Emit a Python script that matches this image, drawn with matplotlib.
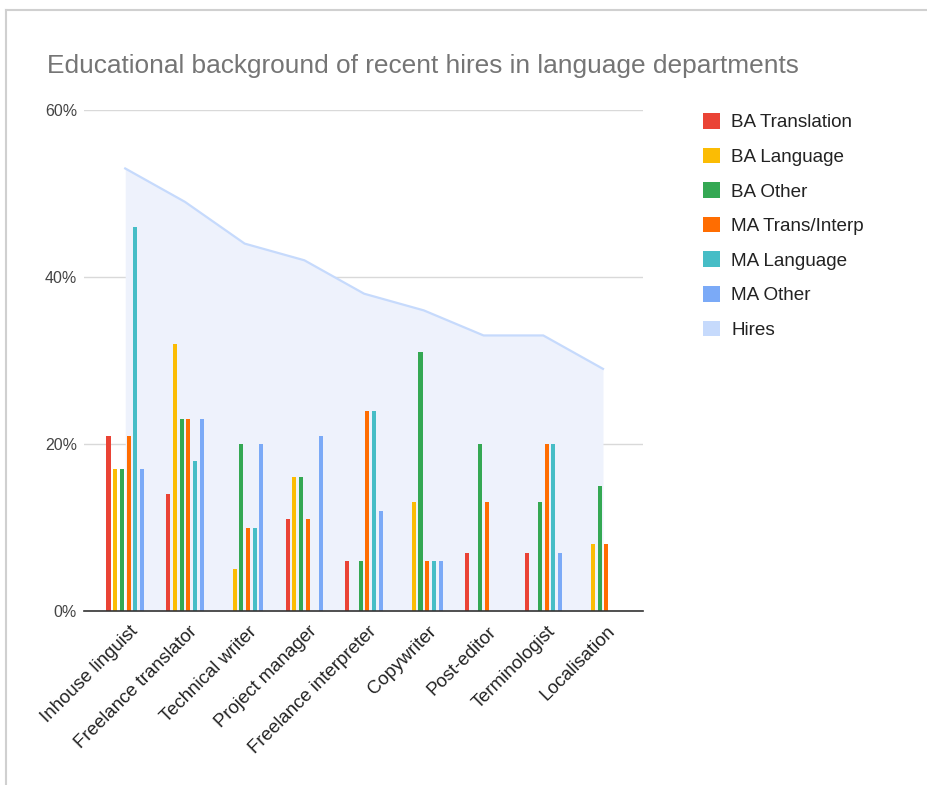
import matplotlib
matplotlib.use("Agg")
import matplotlib.pyplot as plt
import numpy as np
from matplotlib.patches import Patch
from matplotlib.lines import Line2D
from matplotlib.transforms import ScaledTranslation

plt.rcParams['font.family'] = ['Liberation Sans', 'DejaVu Sans']

categories = ["Inhouse linguist", "Freelance translator", "Technical writer",
              "Project manager", "Freelance interpreter", "Copywriter",
              "Post-editor", "Terminologist", "Localisation"]

ba_translation = [21, 14, 0, 11, 6, 0, 7, 7, 0]
ba_language    = [17, 32, 5, 16, 0, 13, 0, 0, 8]
ba_other       = [17, 23, 20, 16, 6, 31, 20, 13, 15]
ma_trans_interp = [21, 23, 10, 11, 24, 6, 13, 20, 8]
ma_language    = [46, 18, 10, 0, 24, 6, 0, 20, 0]
ma_other       = [17, 23, 20, 21, 12, 6, 0, 7, 0]
hires          = [53, 49, 44, 42, 38, 36, 33, 33, 29]

series_names = ["BA Translation", "BA Language", "BA Other",
                "MA Trans/Interp", "MA Language", "MA Other"]
series_values = [ba_translation, ba_language, ba_other,
                 ma_trans_interp, ma_language, ma_other]
series_colors = ["#ea4335", "#fbbc04", "#34a853", "#ff6d01", "#46bdc6", "#7baaf7"]
hires_line = "#c6dafc"
hires_fill = "#eef2fc"

fig = plt.figure(figsize=(9.28, 7.85), dpi=100)
ax = fig.add_axes([84 / 928, 1 - 611 / 785, (643 - 84) / 928, (611 - 110) / 785])

x = np.arange(len(categories))

# Hires shown as an area behind the bars
ax.fill_between(x, hires, 0, color=hires_fill, zorder=1, linewidth=0)
ax.plot(x, hires, color=hires_line, linewidth=1.6, zorder=2)

step = 0.112
width = 0.068
for k, (vals, col) in enumerate(zip(series_values, series_colors)):
    ax.bar(x + (k - 2.5) * step, vals, width=width, color=col, zorder=3)

ax.set_xlim(-0.69, 8.67)
ax.set_ylim(0, 60)
ax.set_yticks([0, 20, 40, 60])
ax.set_yticklabels(["0%", "20%", "40%", "60%"], fontsize=11.5, color="#444444")
ax.tick_params(axis="y", length=0, pad=5)
ax.grid(axis="y", color="#d9d9d9", linewidth=1.0, zorder=0)
ax.set_axisbelow(True)
for s in ["top", "right", "left"]:
    ax.spines[s].set_visible(False)
ax.spines["bottom"].set_color("#333333")
ax.spines["bottom"].set_linewidth(1.2)
ax.spines["bottom"].set_zorder(4)

# Category labels, rotated 45 degrees and ending just below each group
ax.set_xticks(x)
ax.set_xticklabels([])
ax.tick_params(axis="x", length=0)
offset = ScaledTranslation(0.10, -0.18, fig.dpi_scale_trans)
for xi, name in zip(x, categories):
    ax.text(xi, 0, name, transform=ax.get_xaxis_transform() + offset,
            rotation=45, rotation_mode="anchor", ha="right", va="center",
            fontsize=13.4, color="#222222")

fig.text(47 / 928, 1 - 73 / 785, "Educational background of recent hires in language departments",
         fontsize=18.9, color="#757575", ha="left", va="baseline")

handles = [Patch(facecolor=c, edgecolor="none") for c in series_colors]
handles.append(Patch(facecolor=hires_line, edgecolor="none"))
labels = series_names + ["Hires"]
fig.legend(handles, labels, loc="upper left",
           bbox_to_anchor=(703 / 928, 1 - 113 / 785), frameon=False,
           fontsize=13.6, handlelength=0.9, handleheight=0.9,
           handletextpad=0.6, labelspacing=0.86, borderpad=0,
           borderaxespad=0, labelcolor="#222222")

# Light frame along the top and left edges
fig.add_artist(Line2D([6 / 928, 1], [1 - 10 / 785, 1 - 10 / 785],
                      transform=fig.transFigure, color="#d0d0d0", linewidth=1.5))
fig.add_artist(Line2D([6 / 928, 6 / 928], [0, 1 - 10 / 785],
                      transform=fig.transFigure, color="#d0d0d0", linewidth=1.5))

fig.savefig("out.png", dpi=100, facecolor="white")
